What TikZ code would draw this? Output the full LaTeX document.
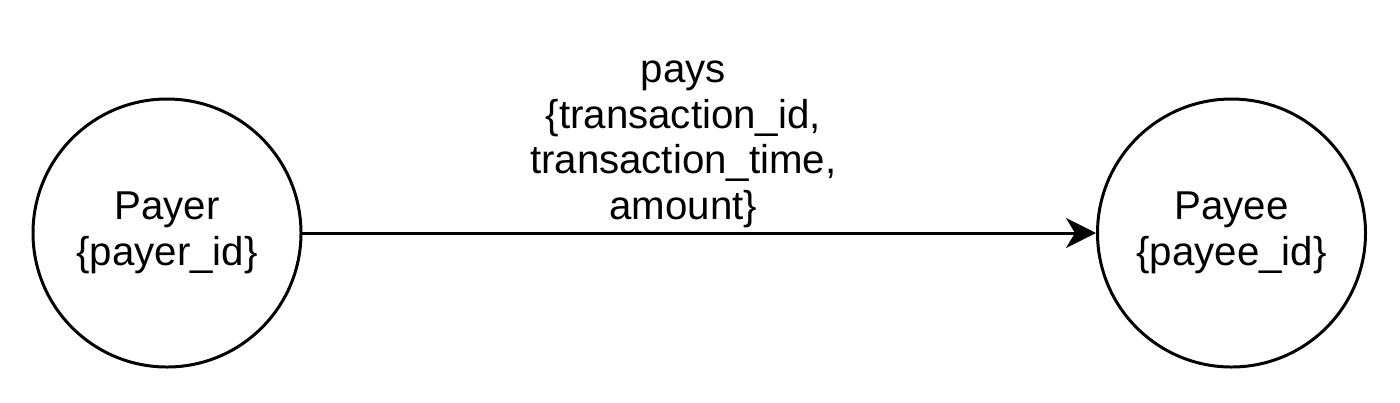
\documentclass[tikz,border=0pt]{standalone}
\usepackage{fontspec}
\setmainfont{Liberation Sans}
\usetikzlibrary{arrows.meta, positioning}
\tikzset{
  every picture/.style={font=\fontsize{22.9}{26}\selectfont, line width=1.7pt},
  entity/.style={draw=black, circle, minimum size=5.36cm, align=center, inner sep=0pt},
  arrow/.style={-{Stealth[length=6mm, width=6mm, inset=1.8mm]}, draw=black, line width=1.7pt},
  rel/.style={align=center, inner sep=2pt},
}
\begin{document}
\begin{tikzpicture}
  \useasboundingbox (0,0) rectangle (28,-8.04);
  \node[entity] (payer) at (3.34,-4.66) {Payer\\\{payer\_id\}};
  \node[entity] (payee) at (24.63,-4.66) {Payee\\\{payee\_id\}};
  \draw[arrow] (payer) -- node[rel, above, xshift=-0.32cm] (pays) {pays\\\{transaction\_id,\\transaction\_time,\\amount\}} (payee);
\end{tikzpicture}
\end{document}
